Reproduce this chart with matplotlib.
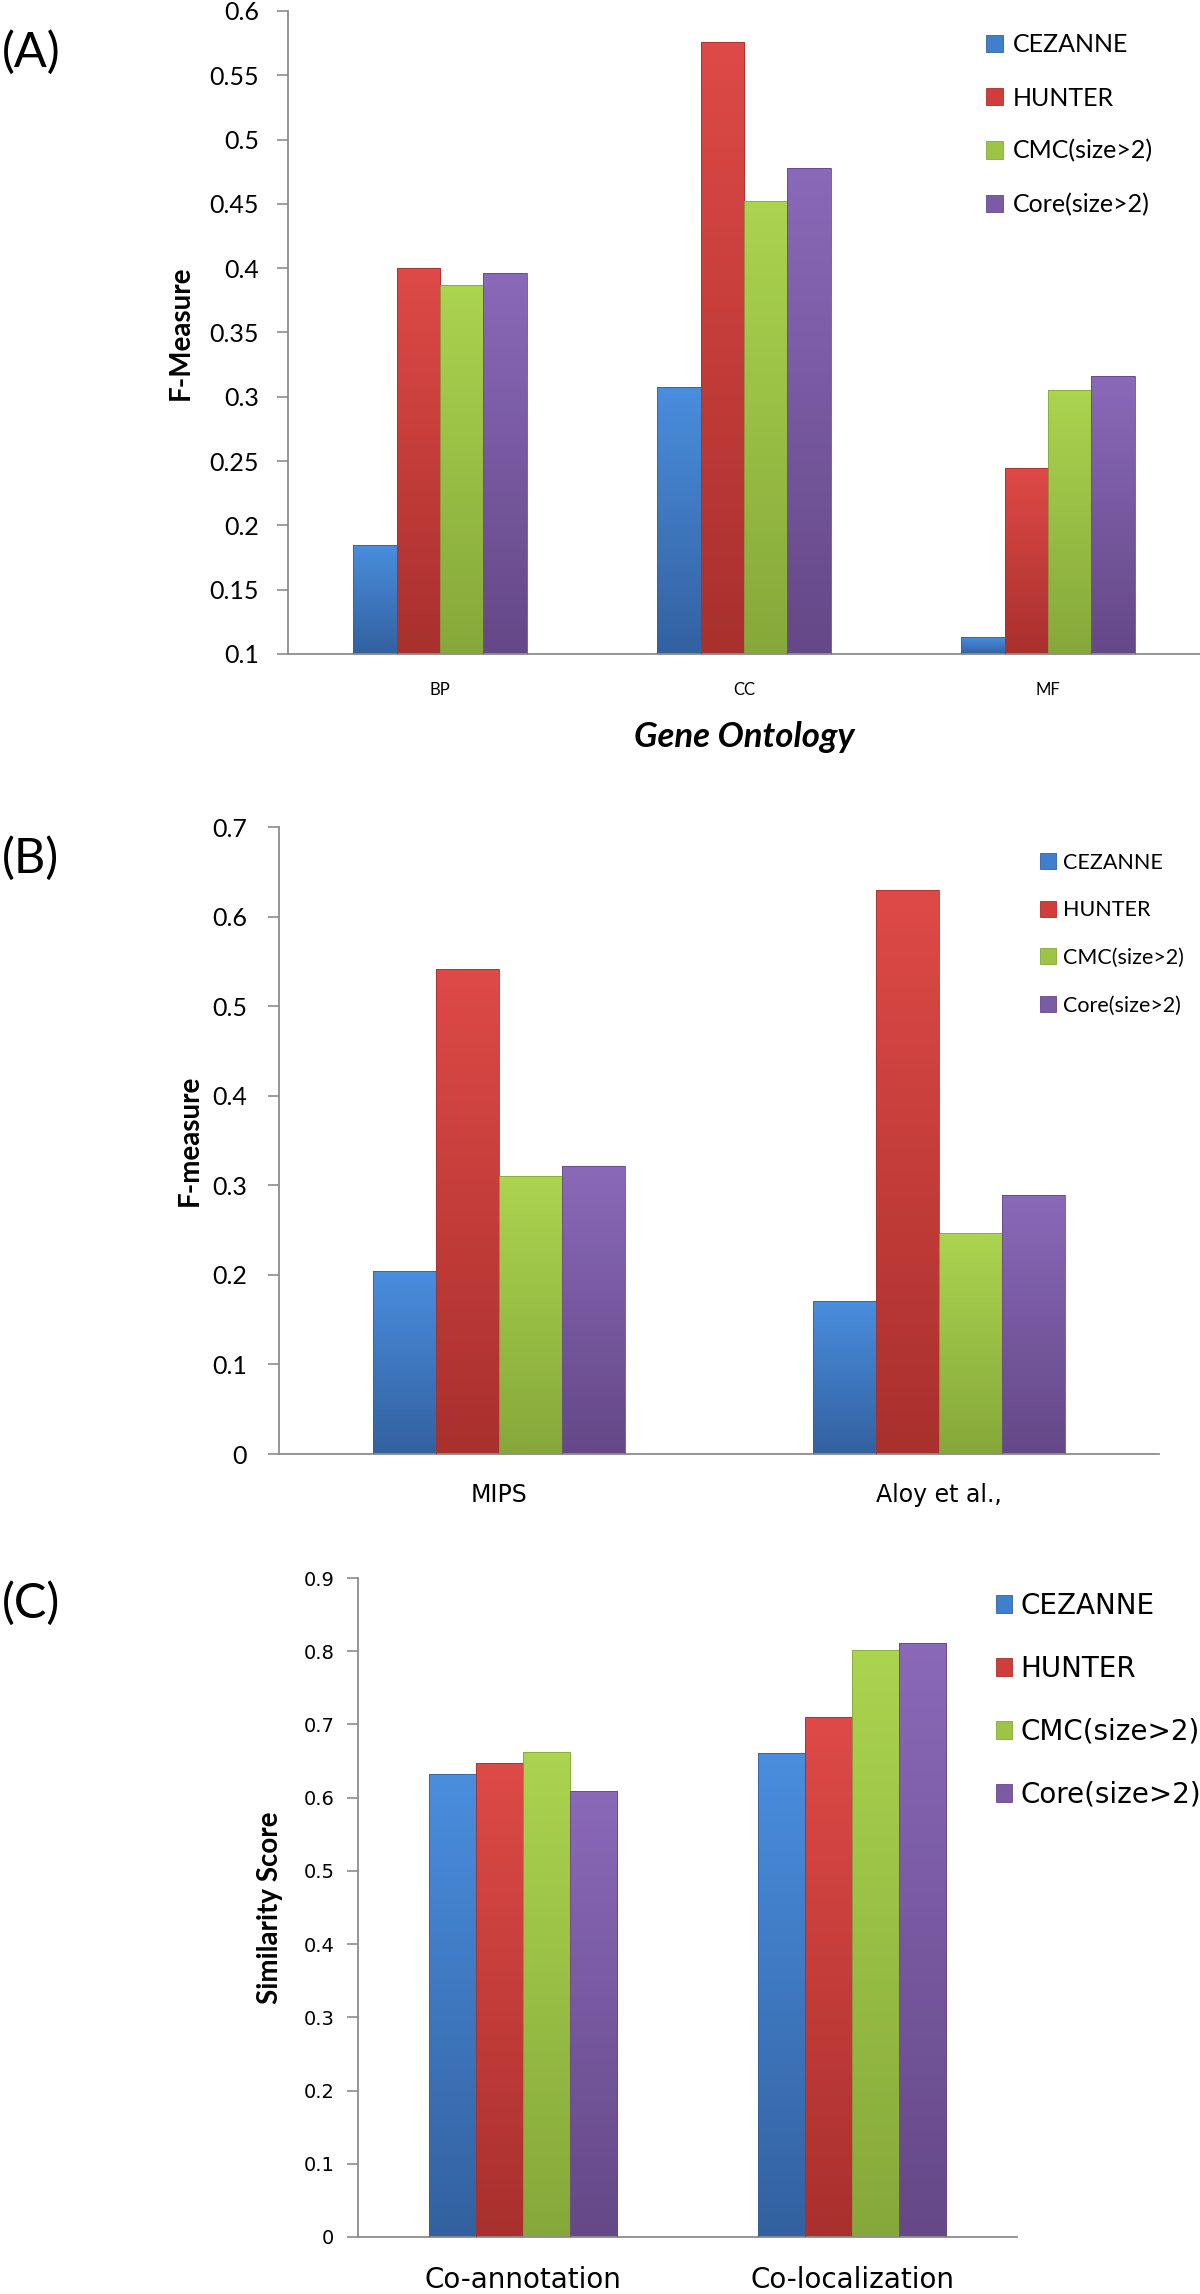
import numpy as np
import matplotlib
matplotlib.use('Agg')
import matplotlib.pyplot as plt
from matplotlib.colors import LinearSegmentedColormap
from matplotlib.patches import Patch

plt.rcParams['font.family'] = ['Lato', 'DejaVu Sans']

# --- data ---
series = ['CEZANNE', 'HUNTER', 'CMC(size>2)', 'Core(size>2)']

go_cats = ['BP', 'CC', 'MF']
go_cezanne = [0.185, 0.308, 0.113]
go_hunter = [0.400, 0.576, 0.245]
go_cmc = [0.387, 0.452, 0.305]
go_core = [0.396, 0.478, 0.316]

ref_cats = ['MIPS', 'Aloy et al.,']
ref_cezanne = [0.204, 0.171]
ref_hunter = [0.542, 0.630]
ref_cmc = [0.310, 0.247]
ref_core = [0.321, 0.289]

sim_cats = ['Co-annotation', 'Co-localization']
sim_cezanne = [0.633, 0.661]
sim_hunter = [0.648, 0.710]
sim_cmc = [0.663, 0.801]
sim_core = [0.609, 0.811]

# excel-like colours (flat, light top, dark bottom)
flat = ['#3F7FCB', '#CF3E3B', '#9CC545', '#7C5BA5']
light = ['#4A8EDE', '#DE4A47', '#ABD44F', '#8A69B9']
dark = ['#3361A0', '#A9302D', '#86A83A', '#654887']
axis_grey = '#8C8C8C'

W, H = 1200, 2294
fig = plt.figure(figsize=(W / 100, H / 100), dpi=100)


def add_axes(x0, x1, ytop, ybot):
    # axes placed in pixel coordinates of the final image
    return fig.add_axes([x0 / W, 1 - ybot / H, (x1 - x0) / W, (ybot - ytop) / H])


def shade(ax, bars, lo, hi):
    cmap = LinearSegmentedColormap.from_list('g', [lo, hi])
    grad = np.linspace(1, 0, 128).reshape(-1, 1)
    for r in bars:
        x, y = r.get_x(), r.get_y()
        w, h = r.get_width(), r.get_height()
        im = ax.imshow(grad, extent=[x, x + w, y, y + h], aspect='auto',
                       cmap=cmap, vmin=0, vmax=1, origin='upper', zorder=2)
        im.set_clip_path(r)


def draw_panel(ax, cats, values, ymin, ymax, step):
    n = len(cats)
    x = np.arange(n)
    w = 0.5714 / 4
    for j, vals in enumerate(values):
        bars = ax.bar(x + (j - 1.5) * w, np.array(vals) - ymin, width=w, bottom=ymin,
                      color=flat[j], edgecolor=dark[j], linewidth=0.6, zorder=3)
        shade(ax, bars, dark[j], light[j])
        for b in bars:
            b.set_facecolor('none')
    ax.set_xlim(-0.5, n - 0.5)
    ax.set_ylim(ymin, ymax)
    ticks = np.arange(ymin, ymax + step / 2, step)
    ax.set_yticks(ticks)
    ax.set_yticklabels([f'{round(t, 2):g}' for t in ticks])
    ax.set_xticks(x)
    ax.set_xticklabels(cats)
    for s in ['top', 'right']:
        ax.spines[s].set_visible(False)
    for s in ['left', 'bottom']:
        ax.spines[s].set_color(axis_grey)
        ax.spines[s].set_linewidth(1.3)
    ax.tick_params(axis='y', color=axis_grey, length=8, width=1.2, direction='out')
    ax.tick_params(axis='x', length=0)


handles = [Patch(facecolor=flat[j], edgecolor=dark[j], linewidth=0.6) for j in range(4)]

# ---------------- (A) ----------------
axA = add_axes(288, 1200, 11, 654)
draw_panel(axA, go_cats, [go_cezanne, go_hunter, go_cmc, go_core], 0.1, 0.6, 0.05)
axA.tick_params(axis='y', labelsize=18, pad=13)
axA.tick_params(axis='x', labelsize=12, pad=20)
axA.set_ylabel('F-Measure', fontsize=20, fontweight='bold', va='center')
axA.yaxis.set_label_coords(-0.118, 0.5)
axA.set_xlabel('Gene Ontology', fontsize=25, fontweight='bold', fontstyle='italic', va='center')
axA.xaxis.set_label_coords(0.5, -0.129)
axA.legend(handles, series, loc='upper left', bbox_to_anchor=(973 / W, 1 - 21 / H),
           bbox_transform=fig.transFigure, frameon=False, fontsize=18, borderpad=0,
           handlelength=0.68, handleheight=0.68, handletextpad=0.4, labelspacing=1.2)
fig.text(2 / W, 1 - 52 / H, '(A)', fontsize=35, ha='left', va='center')

# ---------------- (B) ----------------
axB = add_axes(279, 1159, 827, 1454)
draw_panel(axB, ref_cats, [ref_cezanne, ref_hunter, ref_cmc, ref_core], 0.0, 0.7, 0.1)
axB.tick_params(axis='y', labelsize=18, pad=15)
axB.tick_params(axis='x', pad=21)
for t in axB.get_xticklabels():
    t.set_fontfamily('DejaVu Sans')
    t.set_fontsize(17)
axB.set_ylabel('F-measure', fontsize=20, fontweight='bold', va='center')
axB.yaxis.set_label_coords(-0.101, 0.5)
axB.legend(handles, series, loc='upper left', bbox_to_anchor=(1029 / W, 1 - 842 / H),
           bbox_transform=fig.transFigure, frameon=False, fontsize=15.5, borderpad=0,
           handlelength=0.75, handleheight=0.75, handletextpad=0.35, labelspacing=1.28)
fig.text(2 / W, 1 - 858 / H, '(B)', fontsize=35, ha='left', va='center')

# ---------------- (C) ----------------
axC = add_axes(358, 1017, 1578, 2237)
draw_panel(axC, sim_cats, [sim_cezanne, sim_hunter, sim_cmc, sim_core], 0.0, 0.9, 0.1)
axC.tick_params(axis='y', pad=9)
for t in axC.get_yticklabels():
    t.set_fontfamily('DejaVu Sans')
    t.set_fontsize(14)
axC.tick_params(axis='x', pad=21)
for t in axC.get_xticklabels():
    t.set_fontfamily('DejaVu Sans')
    t.set_fontsize(20)
axC.set_ylabel('Similarity Score', fontsize=20, fontweight='bold', va='center')
axC.yaxis.set_label_coords(-0.1335, 0.5)
axC.legend(handles, series, loc='upper left', bbox_to_anchor=(982 / W, 1 - 1578 / H),
           bbox_transform=fig.transFigure, frameon=False, borderpad=0,
           prop={'family': 'DejaVu Sans', 'size': 20},
           handlelength=0.58, handleheight=0.58, handletextpad=0.3, labelspacing=1.26)
fig.text(2 / W, 1 - 1603 / H, '(C)', fontsize=35, ha='left', va='center')

fig.savefig('out.png', dpi=100, facecolor='white')
